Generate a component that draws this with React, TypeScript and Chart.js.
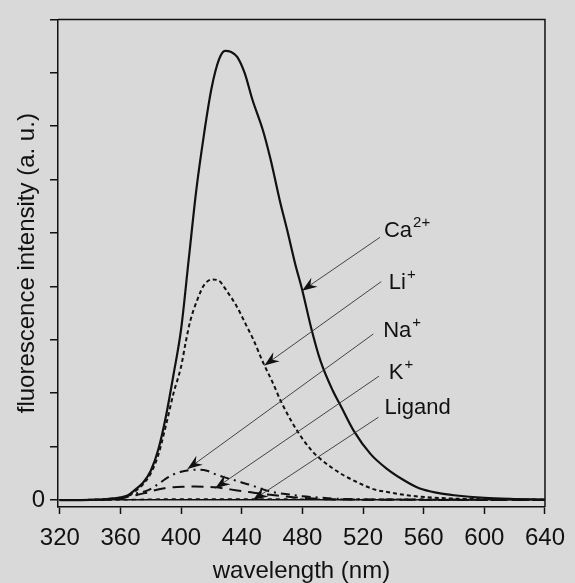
import React, { useEffect, useRef } from "react";
import { Chart, registerables } from "chart.js";

Chart.register(...registerables);

// ---- Data (wavelength in nm, intensity in a.u.) ----
const caNm = [320, 330, 340, 350, 355, 360, 365, 370, 375, 380, 385, 390, 395, 400, 405, 410, 415, 420, 425, 429, 433, 437, 442, 447, 454, 459, 465, 470, 475, 480, 486, 492, 500, 505, 514, 525, 536, 547, 557, 570, 580, 600, 620, 640];
const caVal = [0, 0, 0.005, 0.015, 0.03, 0.05, 0.09, 0.2, 0.33, 0.55, 0.95, 1.57, 2.35, 3.2, 4.5, 5.8, 6.83, 7.7, 8.25, 8.41, 8.39, 8.3, 7.99, 7.5, 6.92, 6.38, 5.62, 5.05, 4.45, 3.92, 3.2, 2.6, 2.05, 1.78, 1.29, 0.86, 0.58, 0.37, 0.22, 0.13, 0.09, 0.04, 0.02, 0.01];

const liNm = [320, 340, 350, 360, 365, 370, 375, 380, 385, 390, 395, 400, 403, 406, 410.7, 415, 420.4, 424.7, 430, 436.6, 443, 447.4, 454, 460.4, 465.8, 473.3, 480, 486.3, 490.6, 499.2, 508, 514.3, 527.3, 536, 549, 570, 600, 640];
const liVal = [0, 0.005, 0.015, 0.04, 0.08, 0.17, 0.3, 0.5, 0.85, 1.4, 2.0, 2.5, 2.95, 3.35, 3.75, 4.02, 4.13, 4.11, 3.92, 3.63, 3.27, 3.02, 2.58, 2.2, 1.85, 1.45, 1.15, 0.92, 0.8, 0.61, 0.45, 0.36, 0.2, 0.15, 0.09, 0.04, 0.015, 0.005];

const naNm = [320, 340, 350, 360, 365, 370, 378, 385, 390, 395, 400, 406, 411, 417, 422, 428, 433, 440, 446, 454, 462, 470, 480, 490, 500, 515, 540, 580, 640];
const naVal = [0, 0.003, 0.01, 0.04, 0.08, 0.12, 0.18, 0.3, 0.4, 0.48, 0.53, 0.56, 0.57, 0.55, 0.49, 0.43, 0.39, 0.33, 0.28, 0.2, 0.14, 0.11, 0.07, 0.05, 0.03, 0.015, 0.01, 0.005, 0];

const kNm = [320, 340, 350, 360, 365, 370, 376, 382, 389, 395, 402, 409, 416, 423, 430, 437, 445, 455, 465, 475, 487, 497, 515, 550, 600, 640];
const kVal = [0, 0.003, 0.01, 0.03, 0.06, 0.09, 0.13, 0.18, 0.22, 0.24, 0.25, 0.255, 0.25, 0.24, 0.21, 0.18, 0.15, 0.11, 0.08, 0.05, 0.03, 0.015, 0.008, 0.004, 0.002, 0];

const ligNm = [320, 360, 380, 400, 420, 440, 460, 480, 520, 560, 600, 640];
const ligVal = [0, 0.005, 0.015, 0.02, 0.02, 0.02, 0.018, 0.015, 0.012, 0.012, 0.01, 0.01];

const xTicks = [320, 360, 400, 440, 480, 520, 560, 600, 640];
const yTicks = [0, 1, 2, 3, 4, 5, 6, 7, 8, 9];

// Annotation labels: [main text, superscript]
const labelMain = ["Ca", "Li", "Na", "K", "Ligand"];
const labelSup = ["2+", "+", "+", "+", ""];
// label anchor (text left/baseline), line start and arrow tip, in data units
const labelAt = [[533.8, 4.93], [537.0, 3.95], [533.3, 3.06], [537.0, 2.26], [534.2, 1.61]];
const lineFrom = [[531.2, 4.92], [532.0, 4.09], [526.8, 3.11], [530.5, 2.32], [530.1, 1.55]];
const arrowTip = [[479.8, 3.92], [454.9, 2.52], [404.2, 0.58], [422.5, 0.22], [447.4, 0.0]];

const pts = (xs: number[], ys: number[]) => xs.map((x, i) => ({ x, y: ys[i] }));

const FONT = '"Liberation Sans", Arial, sans-serif';
const INK = "#111";
const BG = "#d9d9d9";

const framePlugin = {
  id: "frame",
  afterDatasetsDraw(chart: any) {
    const { ctx, chartArea: a, scales } = chart;
    const xs = scales.x;
    const ys = scales.y;
    ctx.save();
    ctx.strokeStyle = INK;
    ctx.lineWidth = 1.5;
    ctx.beginPath();
    ctx.moveTo(a.left, a.top);
    ctx.lineTo(a.right, a.top);
    ctx.lineTo(a.right, a.bottom);
    ctx.stroke();

    for (let i = 0; i < labelMain.length; i++) {
      const sx = xs.getPixelForValue(lineFrom[i][0]);
      const sy = ys.getPixelForValue(lineFrom[i][1]);
      const tx = xs.getPixelForValue(arrowTip[i][0]);
      const ty = ys.getPixelForValue(arrowTip[i][1]);
      ctx.strokeStyle = "#333";
      ctx.lineWidth = 0.9;
      ctx.beginPath();
      ctx.moveTo(sx, sy);
      ctx.lineTo(tx, ty);
      ctx.stroke();
      const dx = tx - sx;
      const dy = ty - sy;
      const len = Math.hypot(dx, dy);
      const ux = dx / len;
      const uy = dy / len;
      const nx = -uy;
      const ny = ux;
      const L = 15;
      const W = 5.5;
      const bx = tx - ux * L;
      const by = ty - uy * L;
      const mx = tx - ux * (L - 5);
      const my = ty - uy * (L - 5);
      ctx.fillStyle = INK;
      ctx.beginPath();
      ctx.moveTo(tx, ty);
      ctx.lineTo(bx + nx * W, by + ny * W);
      ctx.lineTo(mx, my);
      ctx.lineTo(bx - nx * W, by - ny * W);
      ctx.closePath();
      ctx.fill();

      const lx = xs.getPixelForValue(labelAt[i][0]);
      const ly = ys.getPixelForValue(labelAt[i][1]);
      ctx.fillStyle = INK;
      ctx.textAlign = "left";
      ctx.textBaseline = "alphabetic";
      ctx.font = `22px ${FONT}`;
      ctx.fillText(labelMain[i], lx, ly);
      const w = ctx.measureText(labelMain[i]).width;
      if (labelSup[i]) {
        ctx.font = `15px ${FONT}`;
        ctx.fillText(labelSup[i], lx + w + 1, ly - 10);
      }
    }
    ctx.restore();
  },
};

export default function App() {
  const ref = useRef<HTMLCanvasElement | null>(null);

  useEffect(() => {
    if (!ref.current) return;
    const common = {
      borderColor: INK,
      borderWidth: 2,
      pointRadius: 0,
      fill: false,
      cubicInterpolationMode: "monotone" as const,
    };
    const chart = new Chart(ref.current, {
      type: "line",
      data: {
        datasets: [
          { ...common, label: "Ca2+", data: pts(caNm, caVal), borderWidth: 2.2 },
          { ...common, label: "Li+", data: pts(liNm, liVal), borderDash: [4, 3] },
          { ...common, label: "Na+", data: pts(naNm, naVal), borderDash: [9, 5, 2, 5] },
          { ...common, label: "K+", data: pts(kNm, kVal), borderDash: [12, 7] },
          { ...common, label: "Ligand", data: pts(ligNm, ligVal), borderDash: [4, 4], borderWidth: 1.6 },
        ],
      },
      options: {
        animation: false,
        responsive: false,
        maintainAspectRatio: false,
        layout: { padding: { top: 12, right: 20, left: 0, bottom: 0 } },
        plugins: { legend: { display: false }, tooltip: { enabled: false } },
        scales: {
          x: {
            type: "linear",
            min: 318.8,
            max: 640,
            afterFit: (s: any) => {
              s.height = 76;
            },
            afterBuildTicks: (s: any) => {
              s.ticks = xTicks.map((v) => ({ value: v }));
            },
            ticks: {
              autoSkip: false,
              maxRotation: 0,
              color: INK,
              padding: 10,
              font: { family: FONT, size: 24 },
              callback: (v: any) => String(v),
            },
            grid: { drawOnChartArea: false, tickLength: 7, tickColor: INK, tickWidth: 1.5 },
            border: { color: INK, width: 1.5 },
            title: {
              display: true,
              text: "wavelength (nm)",
              color: INK,
              font: { family: FONT, size: 24, lineHeight: 1 },
              padding: { top: 0, bottom: 0 },
            },
          },
          y: {
            type: "linear",
            min: -0.13,
            max: 9,
            afterFit: (s: any) => {
              s.width = 58;
            },
            afterBuildTicks: (s: any) => {
              s.ticks = yTicks.map((v) => ({ value: v }));
            },
            ticks: {
              autoSkip: false,
              color: INK,
              padding: 5,
              font: { family: FONT, size: 24 },
              callback: (v: any) => (Number(v) === 0 ? "0" : ""),
            },
            grid: {
              drawOnChartArea: true,
              color: (c: any) => (c.tick && c.tick.value === 0 ? INK : "rgba(0,0,0,0)"),
              lineWidth: 1.5,
              tickLength: 8,
              tickColor: INK,
              tickWidth: 1.5,
            },
            border: { color: INK, width: 1.5 },
            title: {
              display: true,
              text: "fluorescence intensity (a. u.)",
              color: INK,
              font: { family: FONT, size: 24, lineHeight: 1 },
              padding: { top: 15, bottom: 0 },
            },
          },
        },
      },
      plugins: [framePlugin],
    });
    return () => chart.destroy();
  }, []);

  return (
    <div style={{ position: "fixed", left: 0, top: 0, width: 575, height: 583, background: BG }}>
      <canvas ref={ref} width={575} height={583} style={{ display: "block", width: 575, height: 583 }} />
    </div>
  );
}
